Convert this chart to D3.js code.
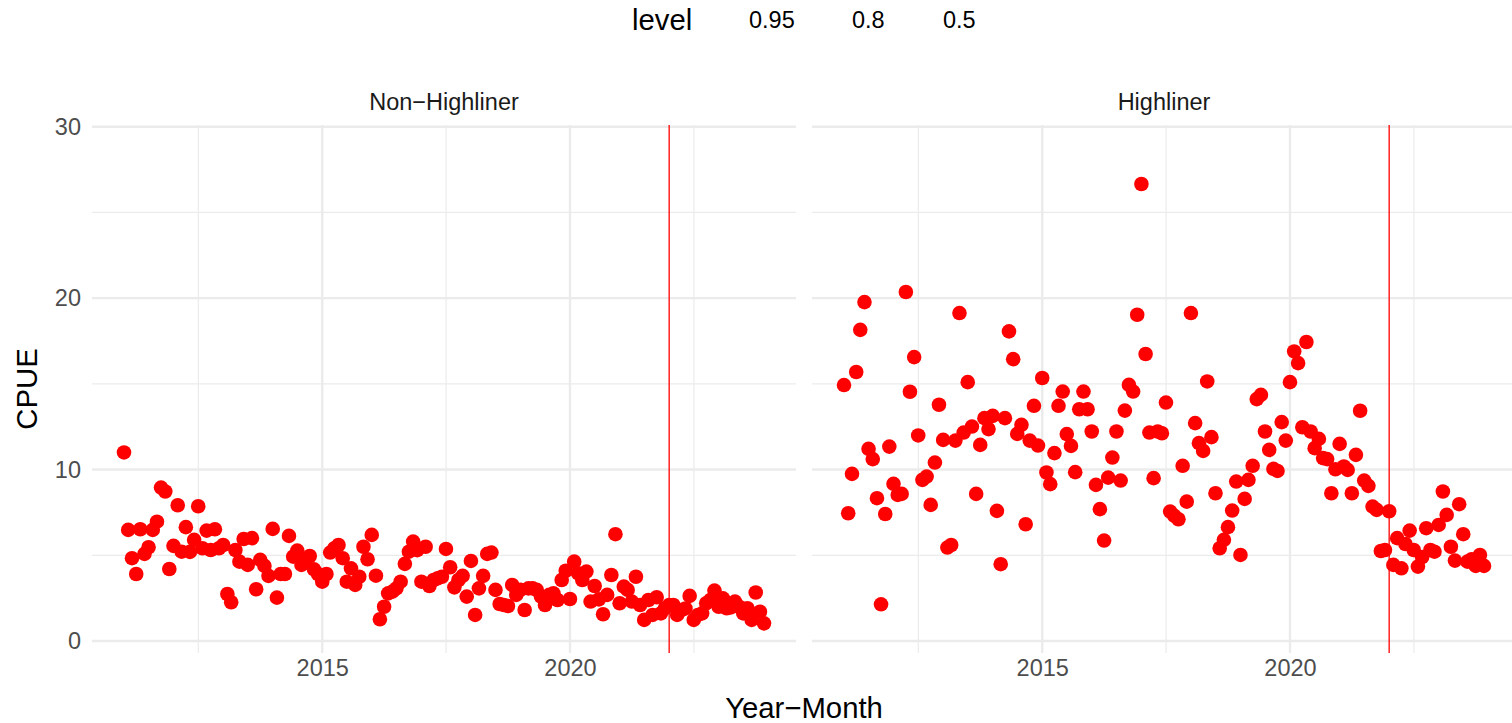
<!DOCTYPE html>
<html>
<head>
<meta charset="utf-8">
<script src="https://cdn.jsdelivr.net/npm/d3@7"></script>
<style>
  html, body { margin: 0; padding: 0; background: #ffffff; }
  svg { display: block; font-family: "Liberation Sans", Arial, Helvetica, sans-serif; }
</style>
</head>
<body>
<svg id="chart" width="1512" height="723"></svg>
<script>
// Monthly CPUE, January 2011 through December 2023 (one value per month)
const firstMonth = "2011-01-01";

const nonHighliner = [
  11.0, 6.48, 4.83, 3.91, 6.52, 5.08, 5.47, 6.48, 6.96, 8.95, 8.72, 4.2,
  5.55, 7.92, 5.21, 6.64, 5.2, 5.9, 7.86, 5.41, 6.44, 5.31, 6.52, 5.41,
  5.6, 2.74, 2.26, 5.31, 4.63, 5.95, 4.44, 6.0, 3.02, 4.73, 4.38, 3.8,
  6.54, 2.53, 3.91, 3.91, 6.13, 4.92, 5.27, 4.44, 4.77, 4.96, 4.18, 3.91,
  3.46, 3.91, 5.16, 5.41, 5.6, 4.83, 3.46, 4.24, 3.27, 3.75, 5.5, 4.77,
  6.19, 3.81, 1.27, 2.0, 2.78, 2.88, 3.07, 3.46, 4.5, 5.21, 5.8, 5.3,
  3.46, 5.5, 3.21, 3.56, 3.66, 3.75, 5.37, 4.3, 3.13, 3.56, 3.8, 2.59,
  4.67, 1.52, 3.07, 3.8, 5.08, 5.16, 2.98, 2.16, 2.1, 2.04, 3.27, 2.69,
  2.98, 1.81, 3.07, 3.07, 2.98, 2.59, 2.1, 2.69, 2.78, 2.39, 3.56, 4.1,
  2.45, 4.63, 3.95, 3.56, 4.05, 2.3, 3.21, 2.43, 1.56, 2.69, 3.85, 6.23,
  2.2, 3.17, 2.98, 2.3, 3.75, 2.1, 1.23, 2.39, 1.52, 2.55, 1.61, 1.91,
  2.1, 2.1, 1.52, 1.81, 1.9, 2.63, 1.23, 1.52, 1.61, 2.2, 2.39, 2.94,
  2.0, 2.49, 1.91, 1.96, 2.3, 2.0, 1.61, 1.91, 1.23, 2.83, 1.71, 1.03
];

const highliner = [
  14.93, 7.45, 9.75, 15.69, 18.15, 19.77, 11.21, 10.61, 8.33, 2.14, 7.41, 11.34,
  9.17, 8.52, 8.58, 20.36, 14.54, 16.56, 11.99, 9.4, 9.59, 7.94, 10.41, 13.78,
  11.73, 5.45, 5.6, 11.69, 19.13, 12.16, 15.1, 12.51, 8.58, 11.44, 13.0, 12.36,
  13.13, 7.59, 4.48, 13.0, 18.06, 16.44, 12.08, 12.61, 6.81, 11.69, 13.72, 11.4,
  15.34, 9.83, 9.15, 10.96, 13.72, 14.55, 12.07, 11.38, 9.85, 13.52, 14.55, 13.52,
  12.22, 9.11, 7.69, 5.86, 9.53, 10.7, 12.22, 9.36, 13.44, 14.94, 14.55, 19.03,
  26.66, 16.74, 12.16, 9.5, 12.22, 12.12, 13.91, 7.55, 7.3, 7.1, 10.22, 8.13,
  19.13, 12.71, 11.54, 11.09, 15.14, 11.89, 8.62, 5.41, 5.9, 6.64, 7.61, 9.3,
  5.02, 8.29, 9.4, 10.22, 14.11, 14.36, 12.22, 11.15, 10.04, 9.92, 12.77, 11.69,
  15.1, 16.89, 16.21, 12.47, 17.44, 12.22, 11.25, 11.79, 10.67, 10.61, 8.62, 10.02,
  11.5, 10.18, 9.98, 8.62, 10.86, 13.43, 9.36, 9.05, 7.84, 7.65, 5.25, 5.31,
  7.57, 4.44, 6.0, 4.24, 5.66, 6.44, 5.31, 4.34, 4.89, 6.58, 5.31, 5.21,
  6.77, 8.72, 7.36, 5.5, 4.69, 7.98, 6.23, 4.63, 4.77, 4.38, 5.02, 4.38
];

const facetNames = ["Non\u2212Highliner", "Highliner"];
const cutoffDate = "2022-01-01";
const xBreakYears = [2010, 2015, 2020, 2025];
const yBreaks = [0, 10, 20, 30];
const yMinorBreaks = [5, 15, 25];
const levelLabels = ["0.95", "0.8", "0.5"];

// ---------------------------------------------------------------------------
const svg = d3.select("#chart");
const W = 1512, H = 723;
const panelW = 704;
const panelX = [92, 812];
const panelTop = 125, panelBottom = 653;

const parse = d3.utcParse("%Y-%m-%d");
const start = parse(firstMonth);
const toRows = vals => vals.map((v, i) => ({ date: d3.utcMonth.offset(start, i), value: v }));
const facets = [
  { name: facetNames[0], rows: toRows(nonHighliner) },
  { name: facetNames[1], rows: toRows(highliner) }
];

// shared x extent with 5% padding each side
const allDates = facets.flatMap(f => f.rows.map(r => r.date));
const [dMin, dMax] = d3.extent(allDates);
const span = dMax - dMin;
const xDomain = [new Date(+dMin - 0.05 * span), new Date(+dMax + 0.05 * span)];

const y = d3.scaleLinear().domain([-0.7, 30.1]).range([panelBottom, panelTop]);

const majorDates = xBreakYears.map(yr => new Date(Date.UTC(yr, 0, 1)));
const minorDates = d3.pairs(majorDates).map(([a, b]) => new Date((+a + +b) / 2));

const gridColor = "#EBEBEB";
const tickFont = 23.5;
const titleFont = 29.3;

facets.forEach((f, i) => {
  const x0 = panelX[i];
  const x = d3.scaleUtc().domain(xDomain).range([x0, x0 + panelW]);
  const inDomain = d => d >= xDomain[0] && d <= xDomain[1];
  const g = svg.append("g");

  // minor grid
  g.selectAll(".ymin").data(yMinorBreaks).join("line")
    .attr("x1", x0).attr("x2", x0 + panelW)
    .attr("y1", d => y(d)).attr("y2", d => y(d))
    .attr("stroke", gridColor).attr("stroke-width", 1.2);
  g.selectAll(".xmin").data(minorDates.filter(inDomain)).join("line")
    .attr("x1", d => x(d)).attr("x2", d => x(d))
    .attr("y1", panelTop).attr("y2", panelBottom)
    .attr("stroke", gridColor).attr("stroke-width", 1.2);

  // major grid
  g.selectAll(".ymaj").data(yBreaks).join("line")
    .attr("x1", x0).attr("x2", x0 + panelW)
    .attr("y1", d => y(d)).attr("y2", d => y(d))
    .attr("stroke", gridColor).attr("stroke-width", 2.4);
  g.selectAll(".xmaj").data(majorDates.filter(inDomain)).join("line")
    .attr("x1", d => x(d)).attr("x2", d => x(d))
    .attr("y1", panelTop).attr("y2", panelBottom)
    .attr("stroke", gridColor).attr("stroke-width", 2.4);

  // points
  g.selectAll("circle").data(f.rows).join("circle")
    .attr("cx", d => x(d.date)).attr("cy", d => y(d.value))
    .attr("r", 7.3).attr("fill", "#FF0000");

  // cutoff line
  const cut = parse(cutoffDate);
  g.append("line")
    .attr("x1", x(cut)).attr("x2", x(cut))
    .attr("y1", panelTop).attr("y2", panelBottom)
    .attr("stroke", "#FF0000").attr("stroke-width", 1.3);

  // x axis labels
  const xAxis = d3.axisBottom(x)
    .tickValues(majorDates.filter(inDomain))
    .tickFormat(d3.utcFormat("%Y"))
    .tickSize(0).tickPadding(6);
  const ax = svg.append("g").attr("transform", `translate(0,${panelBottom})`).call(xAxis);
  ax.select(".domain").remove();
  ax.selectAll("text").attr("font-size", tickFont).attr("fill", "#4D4D4D")
    .attr("font-family", "Liberation Sans, Arial, sans-serif");

  // strip label
  svg.append("text")
    .attr("x", x0 + panelW / 2).attr("y", 110)
    .attr("text-anchor", "middle")
    .attr("font-size", tickFont).attr("fill", "#1A1A1A")
    .text(f.name);
});

// y axis labels (left panel only)
const yAxis = d3.axisLeft(y).tickValues(yBreaks).tickSize(0).tickPadding(11);
const ay = svg.append("g").attr("transform", `translate(${panelX[0]},0)`).call(yAxis);
ay.select(".domain").remove();
ay.selectAll("text").attr("font-size", tickFont).attr("fill", "#4D4D4D")
  .attr("font-family", "Liberation Sans, Arial, sans-serif");

// axis titles
svg.append("text")
  .attr("x", (panelX[0] + panelX[1] + panelW) / 2).attr("y", 718)
  .attr("text-anchor", "middle").attr("font-size", titleFont).attr("fill", "#000")
  .text("Year\u2212Month");
svg.append("text")
  .attr("transform", `translate(37,${(panelTop + panelBottom) / 2}) rotate(-90)`)
  .attr("text-anchor", "middle").attr("font-size", titleFont).attr("fill", "#000")
  .text("CPUE");

// legend
const legend = svg.append("g");
legend.append("text").attr("x", 632).attr("y", 30)
  .attr("font-size", titleFont).attr("fill", "#000").text("level");
const legendX = [749, 852, 943];
legend.selectAll(".lv").data(levelLabels).join("text")
  .attr("x", (d, i) => legendX[i]).attr("y", 28)
  .attr("font-size", tickFont).attr("fill", "#000")
  .text(d => d);
</script>
</body>
</html>
